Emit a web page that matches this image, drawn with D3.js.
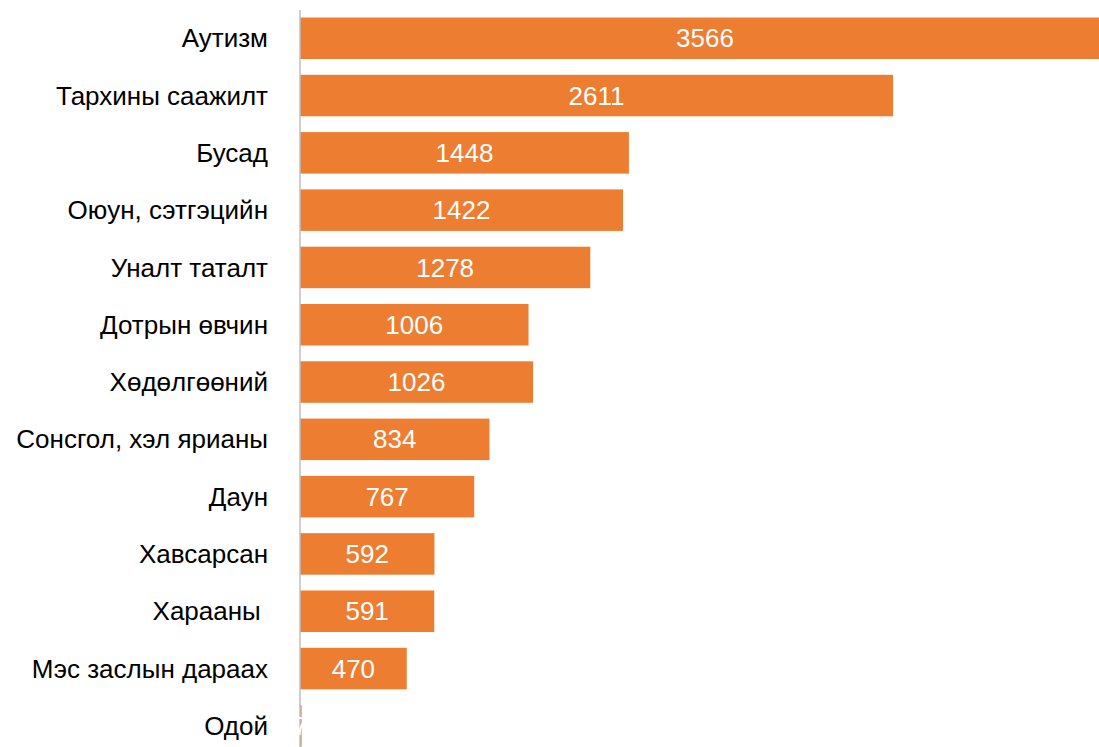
<!DOCTYPE html>
<html>
<style>
body { margin: 0; background: #fff; }
text { font-family: "Liberation Sans", Arial, sans-serif; white-space: pre; }
</style>
<svg></svg>
<script src="https://cdn.jsdelivr.net/npm/d3@7"></script>
<script>
var categories = ["Аутизм", "Тархины саажилт", "Бусад", "Оюун, сэтгэцийн", "Уналт таталт",
  "Дотрын өвчин", "Хөдөлгөөний", "Сонсгол, хэл ярианы", "Даун", "Хавсарсан",
  "Харааны ", "Мэс заслын дараах", "Одой"];
var values = [3566, 2611, 1448, 1422, 1278, 1006, 1026, 834, 767, 592, 591, 470, 7];

var width = 1099, height = 747;
var svg = d3.select("svg").attr("width", width).attr("height", height);

var x = d3.scaleLinear().domain([0, 3566]).range([300, 1110]);
var y = d3.scaleBand().domain(categories).range([9.6, 754.5]).paddingInner(0.276).paddingOuter(0.138);

var bars = svg.append("g");
bars.selectAll("rect")
    .data(values)
    .enter().append("rect")
      .attr("x", x(0))
      .attr("y", function(d, i) { return y(categories[i]); })
      .attr("width", function(d) { return x(d) - x(0); })
      .attr("height", y.bandwidth())
      .attr("fill", "#ED7D31");

// axis line
svg.append("line")
    .attr("x1", x(0)).attr("x2", x(0))
    .attr("y1", 10).attr("y2", height)
    .attr("stroke", "#bfbfbf").attr("stroke-width", 1.5);

svg.append("g").selectAll("text")
    .data(categories)
    .enter().append("text")
      .attr("x", 268)
      .attr("y", function(d) { return y(d) + y.bandwidth() / 2; })
      .attr("dy", "0.35em")
      .attr("text-anchor", "end")
      .attr("font-size", "26px")
      .attr("fill", "#000")
      .text(function(d) { return d; });

svg.append("g").selectAll("text")
    .data(values)
    .enter().append("text")
      .attr("x", function(d) { return (x(0) + x(d)) / 2; })
      .attr("y", function(d, i) { return y(categories[i]) + y.bandwidth() / 2; })
      .attr("dy", "0.35em")
      .attr("text-anchor", "middle")
      .attr("font-size", "26px")
      .attr("fill", "#fff")
      .text(function(d) { return d; });
</script>
</html>
